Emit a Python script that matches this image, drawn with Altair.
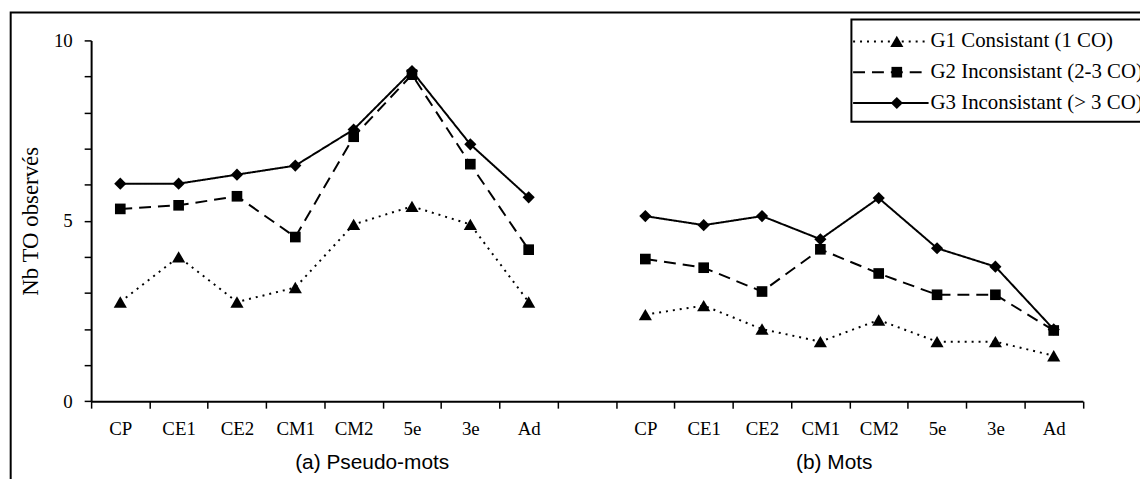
import json
import pandas as pd
import altair as alt

# ---- data ----
categories = ["CP", "CE1", "CE2", "CM1", "CM2", "5e", "3e", "Ad"]
panels = ["(a) Pseudo-mots", "(b) Mots"]
series = ["G1 Consistant (1 CO)", "G2 Inconsistant (2-3 CO)", "G3 Inconsistant (> 3 CO)"]

g1_pseudo = [2.75, 4.00, 2.75, 3.15, 4.90, 5.40, 4.90, 2.75]
g2_pseudo = [5.33, 5.43, 5.68, 4.55, 7.33, 9.05, 6.57, 4.20]
g3_pseudo = [6.03, 6.03, 6.28, 6.53, 7.53, 9.15, 7.12, 5.65]

g1_mots = [2.40, 2.65, 2.00, 1.65, 2.25, 1.65, 1.65, 1.26]
g2_mots = [3.94, 3.70, 3.04, 4.21, 3.54, 2.95, 2.95, 1.96]
g3_mots = [5.13, 4.88, 5.13, 4.49, 5.63, 4.24, 3.73, 1.99]

y_labelled_ticks = [0, 5, 10]
y_title = "Nb TO observés"

# ---- build table ----
values = {
    (panels[0], series[0]): g1_pseudo,
    (panels[0], series[1]): g2_pseudo,
    (panels[0], series[2]): g3_pseudo,
    (panels[1], series[0]): g1_mots,
    (panels[1], series[1]): g2_mots,
    (panels[1], series[2]): g3_mots,
}
n = len(categories)
rows = []
for (panel, s), vals in values.items():
    offset = 0 if panel == panels[0] else n + 1
    for i, (c, v) in enumerate(zip(categories, vals)):
        rows.append({"panel": panel, "series": s, "cat": c,
                     "pos": offset + i + 0.5, "value": v})
df = pd.DataFrame(rows)

n_slots = 2 * n + 1
slot_labels = categories + [""] + categories
x_label_expr = ("datum.value % 1 != 0 ? " + json.dumps(slot_labels)
                + "[floor(datum.value)] : ''")
y_label_expr = ("indexof(" + json.dumps(y_labelled_ticks)
                + ", datum.value) >= 0 ? datum.label : ''")

SERIF = "Liberation Serif"
SANS = "Liberation Sans"

dash_scale = alt.Scale(domain=series, range=[[2, 5], [12, 7], [1, 0]])
shape_scale = alt.Scale(domain=series, range=["triangle-up", "square", "diamond"])
size_scale = alt.Scale(type="ordinal", domain=series, range=[175, 115, 150])

x_enc = alt.X(
    "pos:Q",
    scale=alt.Scale(domain=[0, n_slots], nice=False, zero=False),
    axis=alt.Axis(
        values=[k / 2 for k in range(2 * n_slots + 1)],
        labelExpr=x_label_expr,
        title=None, grid=False,
        labelOverlap=False, labelFlush=False, labelBound=False,
        tickOpacity={"condition": {"test": "datum.value % 1 != 0", "value": 0}, "value": 1},
        tickSize=7, tickWidth=1.5, tickColor="black",
        domainColor="black", domainWidth=2,
        labelFont=SERIF, labelFontSize=19, labelColor="black",
        labelPadding=12,
    ),
)
y_enc = alt.Y(
    "value:Q",
    scale=alt.Scale(domain=[0, 10], nice=False, zero=True),
    axis=alt.Axis(
        values=list(range(11)),
        labelExpr=y_label_expr,
        title=y_title, grid=False,
        tickSize=7, tickWidth=1.5, tickColor="black",
        domainColor="black", domainWidth=2,
        labelFont=SERIF, labelFontSize=19, labelColor="black",
        labelPadding=12, labelOverlap=False, labelFlush=False,
        titleFont=SERIF, titleFontSize=23, titleFontWeight="normal",
        titleColor="black", titleAngle=270, titleX=-60.7,
        titleBaseline="middle", titleAlign="center",
    ),
)

lines = alt.Chart(df).mark_line(color="black", strokeWidth=2).encode(
    x=x_enc, y=y_enc,
    strokeDash=alt.StrokeDash("series:N", scale=dash_scale, legend=None),
    detail="panel:N",
)
points = alt.Chart(df).mark_point(filled=True, opacity=1, color="black").encode(
    x=x_enc, y=y_enc,
    shape=alt.Shape("series:N", scale=shape_scale, legend=None),
    size=alt.Size("series:N", scale=size_scale, legend=None),
)
main = alt.layer(lines, points)

one = pd.DataFrame({"k": [0]})

frame = alt.Chart(one).mark_rect(fillOpacity=0, stroke="black", strokeWidth=2).encode(
    x=alt.value(-81.0), x2=alt.value(1300), y=alt.value(-28), y2=alt.value(700)
)

# ---- hand-made legend ----
leg_df = pd.DataFrame({"series": series})
leg_y = alt.Y("series:N", scale=alt.Scale(type="point", domain=series, range=[1, 63], padding=0), axis=None)

leg_box = alt.Chart(one).mark_rect(fill="white", stroke="black", strokeWidth=2).encode(
    x=alt.value(765.6), x2=alt.value(1300), y=alt.value(-21), y2=alt.value(82)
)
leg_rule = alt.Chart(leg_df).mark_rule(color="black", strokeWidth=2).encode(
    x=alt.value(767.3), x2=alt.value(843.3), y=leg_y,
    strokeDash=alt.StrokeDash("series:N", scale=dash_scale, legend=None),
)
leg_pt = alt.Chart(leg_df).mark_point(filled=True, opacity=1, color="black").encode(
    x=alt.value(811.3), y=leg_y,
    shape=alt.Shape("series:N", scale=shape_scale, legend=None),
    size=alt.Size("series:N", scale=size_scale, legend=None),
)
leg_txt = alt.Chart(leg_df).mark_text(
    align="left", baseline="middle", font=SERIF, fontSize=21, color="black"
).encode(x=alt.value(845.3), y=leg_y, text="series:N")
legend = alt.layer(leg_rule, leg_pt, leg_txt)

sub_a = alt.Chart(one).mark_text(
    align="center", baseline="middle", font=SANS, fontSize=21, color="black"
).encode(x=alt.value(283), y=alt.value(426), text=alt.value(panels[0]))
sub_b = alt.Chart(one).mark_text(
    align="center", baseline="middle", font=SANS, fontSize=21, color="black"
).encode(x=alt.value(748.3), y=alt.value(426), text=alt.value(panels[1]))

chart = alt.layer(frame, main, leg_box, legend, sub_a, sub_b).resolve_scale(
    y="independent"
).properties(
    width=998.7, height=363.3,
    autosize=alt.AutoSizeParams(type="none"),
    padding={"left": 83.7, "top": 31, "right": 57.5, "bottom": 77},
    background="white",
).configure_view(stroke=None)

chart.save("out.html", embed_options={"renderer": "svg", "actions": False})
